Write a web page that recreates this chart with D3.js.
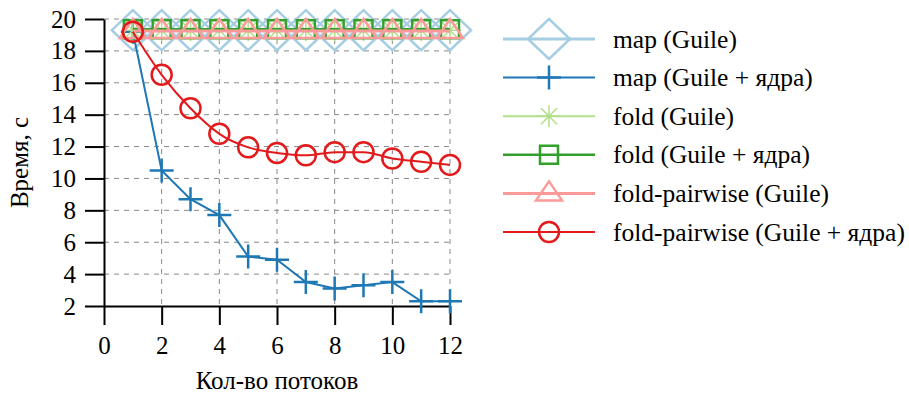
<!DOCTYPE html>
<html lang="ru">
<head>
  <meta charset="UTF-8">
  <title>Время от числа потоков</title>
  <script src="https://d3js.org/d3.v7.min.js"></script>
  <style>
    body { margin: 0; padding: 0; background: #fff; }
    svg text { font-family: "Liberation Serif", "Times New Roman", serif; fill: #000; }
    .grid line { stroke: #888; stroke-width: 1; stroke-dasharray: 5,5; }
    .axis path, .axis line { stroke: #000; stroke-width: 2; }
  </style>
</head>
<body>
<svg id="chart" width="909" height="396"></svg>

<script>
  // данные
  const threads = [1, 2, 3, 4, 5, 6, 7, 8, 9, 10, 11, 12];
  const mapGuile = [19.3, 19.3, 19.3, 19.3, 19.3, 19.3, 19.3, 19.3, 19.3, 19.3, 19.3, 19.3];
  const mapCores = [19.2, 10.5, 8.7, 7.7, 5.1, 4.9, 3.5, 3.1, 3.3, 3.5, 2.3, 2.3];
  const foldGuile = [19.3, 19.3, 19.3, 19.3, 19.3, 19.3, 19.3, 19.3, 19.3, 19.3, 19.3, 19.3];
  const foldCores = [19.35, 19.35, 19.35, 19.35, 19.35, 19.35, 19.35, 19.35, 19.35, 19.35, 19.35, 19.35];
  const pairGuile = [19.25, 19.25, 19.25, 19.25, 19.25, 19.25, 19.25, 19.25, 19.25, 19.25, 19.25, 19.25];
  const pairCores = [19.2, 16.5, 14.4, 12.8, 11.95, 11.6, 11.45, 11.65, 11.65, 11.25, 11.05, 10.85];

  const xTicks = [0, 2, 4, 6, 8, 10, 12];
  const yTicks = [2, 4, 6, 8, 10, 12, 14, 16, 18, 20];

  const series = [
    { name: "map (Guile)", values: mapGuile, color: "#a6cee3", width: 3, marker: "diamond" },
    { name: "map (Guile + ядра)", values: mapCores, color: "#1f78b4", width: 2, marker: "plus" },
    { name: "fold (Guile)", values: foldGuile, color: "#b2df8a", width: 2, marker: "star" },
    { name: "fold (Guile + ядра)", values: foldCores, color: "#33a02c", width: 2.5, marker: "square" },
    { name: "fold-pairwise (Guile)", values: pairGuile, color: "#fb9a99", width: 3, marker: "triangle" },
    { name: "fold-pairwise (Guile + ядра)", values: pairCores, color: "#e31a1c", width: 2, marker: "circle", smooth: true }
  ];

  const markerPath = {
    diamond: "M0,-20L21,0L0,20L-21,0Z",
    plus: "M-12,0H12M0,-12V12",
    star: "M-11,0H11M0,-11V11M-8,-8L8,8M-8,8L8,-8",
    square: "M-9,-9H9V9H-9Z",
    triangle: "M0,-12L13,7L-13,7Z",
    circle: "M10,0A10,10 0 1,1 -10,0A10,10 0 1,1 10,0Z"
  };

  const svg = d3.select("#chart");
  const x = d3.scaleLinear().domain([0, 12]).range([104, 450]);
  const y = d3.scaleLinear().domain([2, 20]).range([306, 19]);

  // сетка
  const grid = svg.append("g").attr("class", "grid");
  grid.selectAll("line.v")
    .data(xTicks.filter(d => d > 0))
    .enter().append("line")
      .attr("x1", d => x(d)).attr("x2", d => x(d))
      .attr("y1", y(20)).attr("y2", y(2));
  grid.selectAll("line.h")
    .data(yTicks.filter(d => d > 2))
    .enter().append("line")
      .attr("x1", x(0)).attr("x2", x(12))
      .attr("y1", d => y(d)).attr("y2", d => y(d));

  // оси
  svg.append("g")
      .attr("class", "axis")
      .attr("transform", `translate(0,${y(2)})`)
      .call(d3.axisBottom(x).tickValues(xTicks).tickSize(19).tickSizeOuter(0).tickPadding(11));
  svg.append("g")
      .attr("class", "axis")
      .attr("transform", `translate(${x(0)},0)`)
      .call(d3.axisLeft(y).tickValues(yTicks).tickSize(19).tickSizeOuter(0).tickPadding(9));
  svg.selectAll(".axis")
      .attr("font-family", "Liberation Serif")
      .attr("font-size", 25);

  svg.append("text")
      .attr("x", (x(0) + x(12)) / 2).attr("y", 389)
      .attr("text-anchor", "middle")
      .attr("font-size", 25)
      .text("Кол-во потоков");
  svg.append("text")
      .attr("transform", `translate(28,${(y(2) + y(20)) / 2}) rotate(-90)`)
      .attr("text-anchor", "middle")
      .attr("font-size", 25)
      .text("Время, с");

  // линии и маркеры
  series.forEach(s => {
    const line = d3.line()
      .x((d, i) => x(threads[i]))
      .y(d => y(d))
      .curve(s.smooth ? d3.curveMonotoneX : d3.curveLinear);

    const g = svg.append("g");
    g.append("path")
        .datum(s.values)
        .attr("d", line)
        .attr("fill", "none")
        .attr("stroke", s.color)
        .attr("stroke-width", s.width);
    g.selectAll("path.m")
        .data(s.values)
        .enter().append("path")
          .attr("transform", (d, i) => `translate(${x(threads[i])},${y(d)})`)
          .attr("d", markerPath[s.marker])
          .attr("fill", "none")
          .attr("stroke", s.color)
          .attr("stroke-width", s.marker === "star" ? 1.5 : 2.5);
  });

  // легенда
  const legend = svg.append("g").attr("class", "legend");
  const row = legend.selectAll("g")
    .data(series)
    .enter().append("g")
      .attr("transform", (d, i) => `translate(0,${39 + i * 38.6})`);
  row.append("line")
      .attr("x1", 503).attr("x2", 595)
      .attr("stroke", d => d.color)
      .attr("stroke-width", d => d.width);
  row.append("path")
      .attr("transform", "translate(549,0)")
      .attr("d", d => markerPath[d.marker])
      .attr("fill", "none")
      .attr("stroke", d => d.color)
      .attr("stroke-width", d => d.marker === "star" ? 1.5 : 2.5);
  row.append("text")
      .attr("x", 613).attr("y", 8.5)
      .attr("font-size", 25.5)
      .text(d => d.name);
</script>
</body>
</html>
